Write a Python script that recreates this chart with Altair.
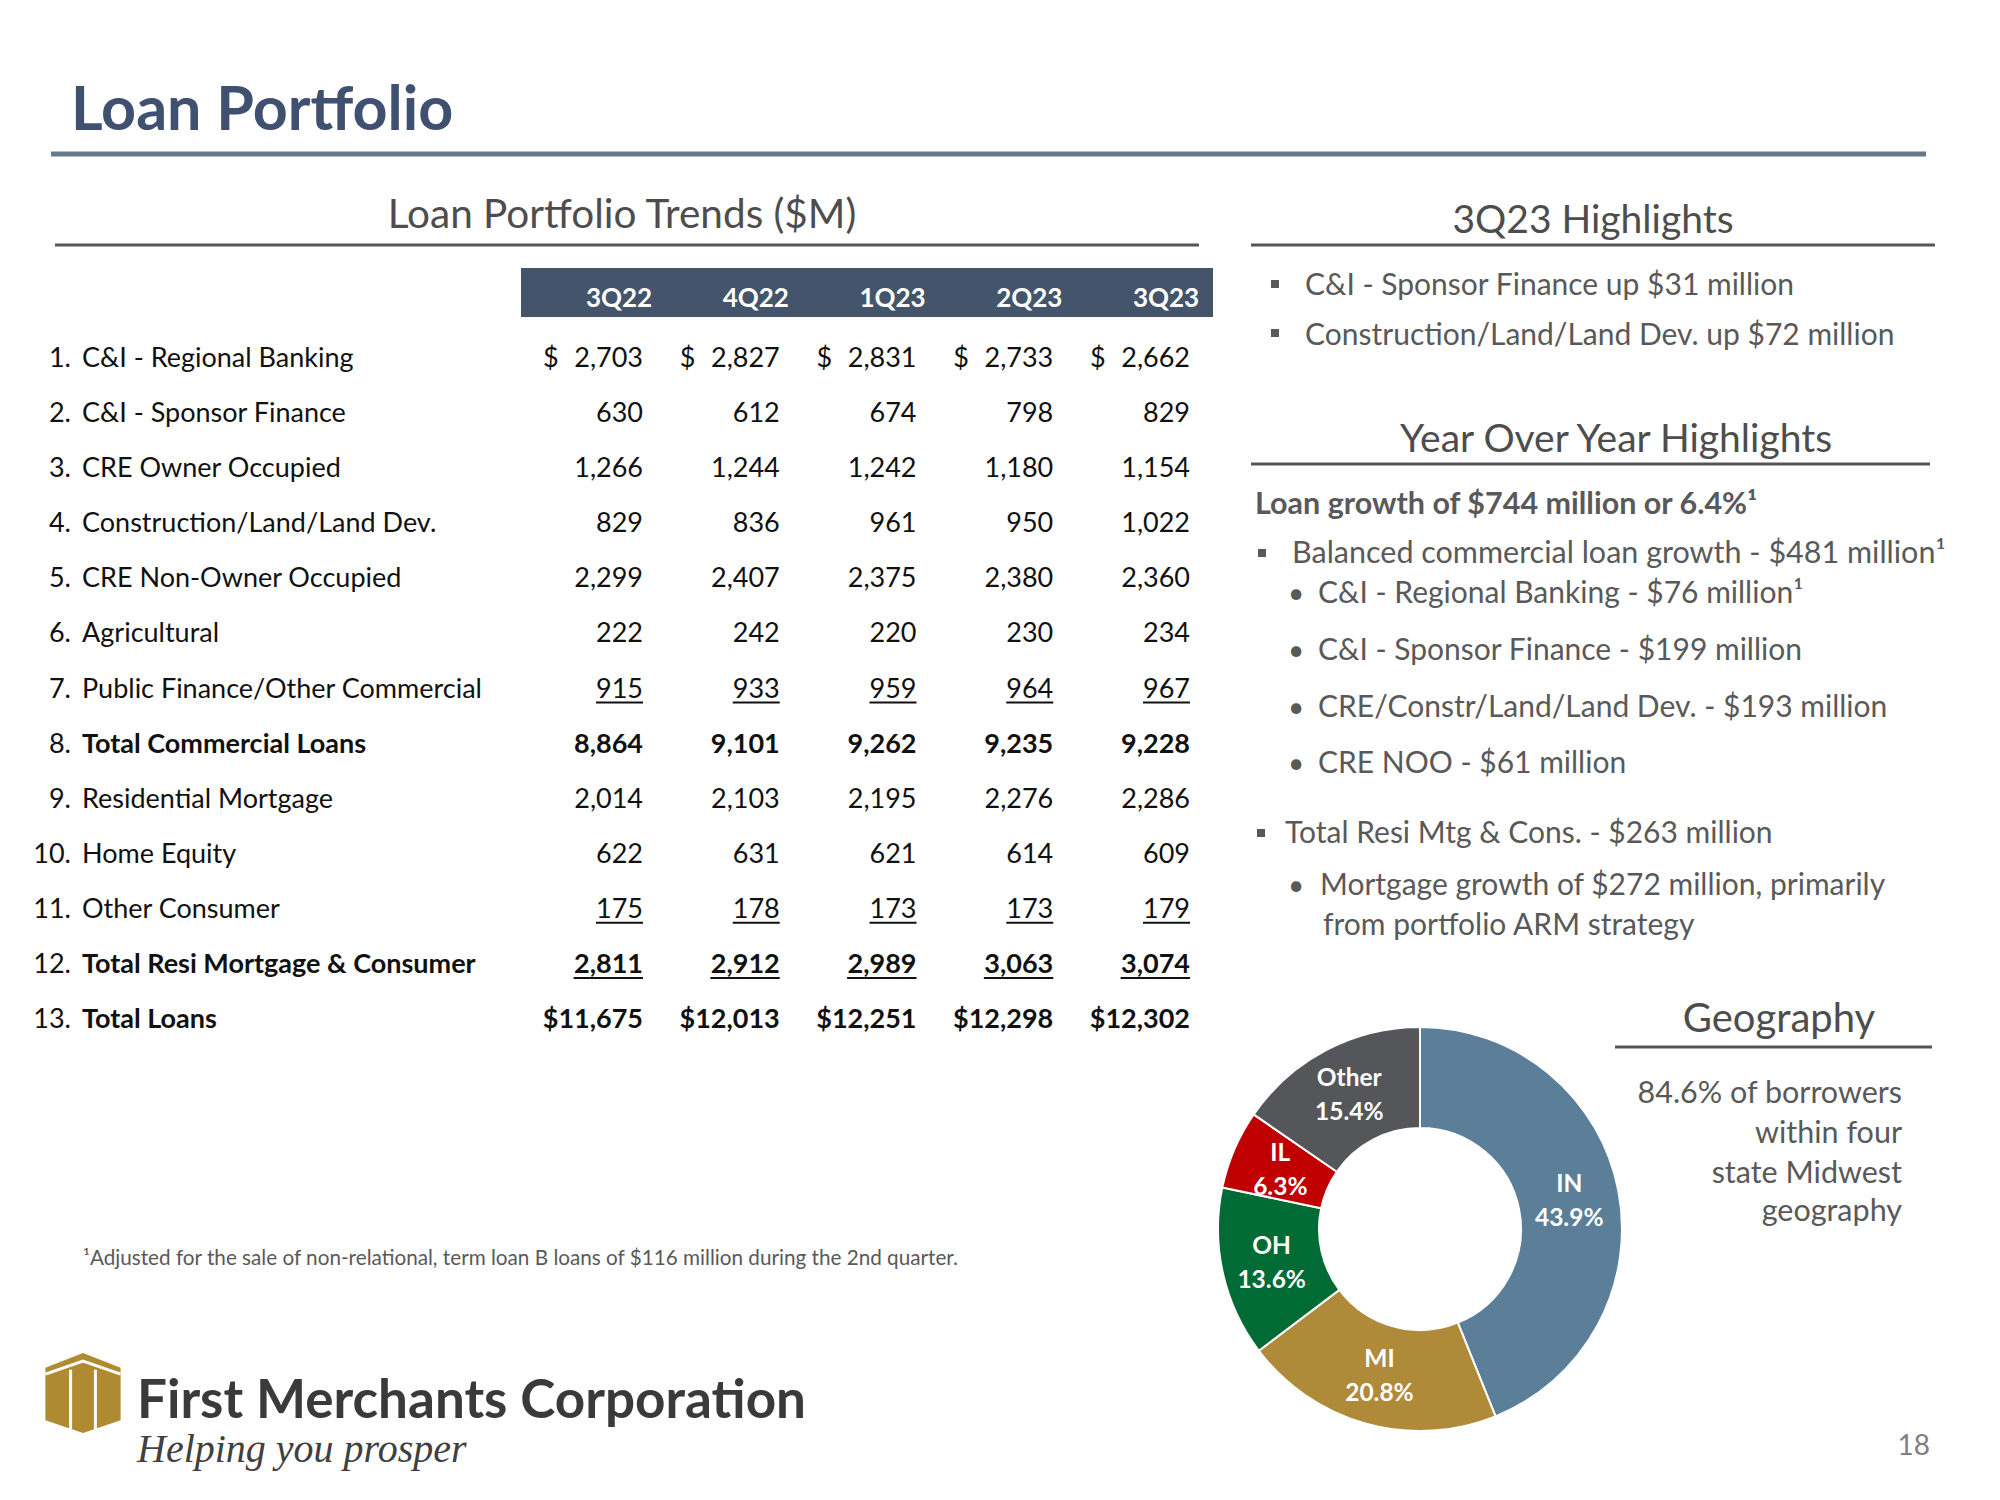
import altair as alt
import pandas as pd

# ---------------- data ----------------
quarters = ["3Q22", "4Q22", "1Q23", "2Q23", "3Q23"]
row_labels = [
    "C&I - Regional Banking", "C&I - Sponsor Finance", "CRE Owner Occupied",
    "Construction/Land/Land Dev.", "CRE Non-Owner Occupied", "Agricultural",
    "Public Finance/Other Commercial", "Total Commercial Loans", "Residential Mortgage",
    "Home Equity", "Other Consumer", "Total Resi Mortgage & Consumer", "Total Loans",
]
ci_regional = [2703, 2827, 2831, 2733, 2662]
ci_sponsor = [630, 612, 674, 798, 829]
cre_owner_occupied = [1266, 1244, 1242, 1180, 1154]
construction_land = [829, 836, 961, 950, 1022]
cre_non_owner = [2299, 2407, 2375, 2380, 2360]
agricultural = [222, 242, 220, 230, 234]
public_finance = [915, 933, 959, 964, 967]
total_commercial = [8864, 9101, 9262, 9235, 9228]
residential_mortgage = [2014, 2103, 2195, 2276, 2286]
home_equity = [622, 631, 621, 614, 609]
other_consumer = [175, 178, 173, 173, 179]
total_resi_consumer = [2811, 2912, 2989, 3063, 3074]
total_loans = [11675, 12013, 12251, 12298, 12302]
bold_rows = [8, 12, 13]
underlined_rows = [7, 11, 12]
separate_dollar_rows = [1]
prefixed_dollar_rows = [13]

geo_states = ["IN", "MI", "OH", "IL", "Other"]
geo_share = [43.9, 20.8, 13.6, 6.3, 15.4]
geo_colors = ["#5B7F98", "#AF8A38", "#006B35", "#C00000", "#55565A"]

# ---------------- style / layout ----------------
OFF = 8
FONT = "Lato"
TITLE_C = "#3F5070"
HEAD_C = "#4D4D4D"
BODY_C = "#595959"
TABLE_C = "#111111"
BAR_C = "#44546A"
GOLD = "#B08A30"
TABLE_FS = 27


def px(v):
    return v - OFF


COL_RIGHT = (643, 1190)
ROW_BASE = (367, 1028)
COL_STEP = (COL_RIGHT[1] - COL_RIGHT[0]) / 4


def est_width(s, fs):
    return sum(0.58 if (c.isdigit() or c == "$") else 0.25 for c in s) * fs


series = [ci_regional, ci_sponsor, cre_owner_occupied, construction_land, cre_non_owner,
          agricultural, public_finance, total_commercial, residential_mortgage, home_equity,
          other_consumer, total_resi_consumer, total_loans]

recs = []
for ri, vals in enumerate(series):
    n = ri + 1
    for ci, v in enumerate(vals):
        s = f"{v:,}"
        if n in prefixed_dollar_rows:
            s = "$" + s
        w = est_width(s, TABLE_FS)
        recs.append(dict(ri=ri, ci=ci, val=s, bold=n in bold_rows,
                         under=n in underlined_rows, dollar=n in separate_dollar_rows,
                         ci_left=ci - w / COL_STEP))
table = pd.DataFrame(recs)

labels_df = pd.DataFrame({
    "ri": list(range(len(row_labels))),
    "num": [f"{i + 1}." for i in range(len(row_labels))],
    "label": row_labels,
    "bold": [(i + 1) in bold_rows for i in range(len(row_labels))],
})
header_df = pd.DataFrame({"q": quarters, "ci": list(range(len(quarters)))})

xs = alt.Scale(domain=[0, 4], range=[px(COL_RIGHT[0]), px(COL_RIGHT[1])], zero=False, nice=False)
ys = alt.Scale(domain=[0, 12], range=[px(ROW_BASE[0]), px(ROW_BASE[1])], zero=False, nice=False)
X = alt.X("ci:Q", scale=xs, axis=None)
Y = alt.Y("ri:Q", scale=ys, axis=None)

layers = []

# decorative rules
lines = pd.DataFrame([
    dict(x=51, x2=1926, y=154, w=5, c="#67788B"),
    dict(x=55, x2=1199, y=245, w=3, c="#555555"),
    dict(x=1251, x2=1935, y=245, w=3, c="#555555"),
    dict(x=1251, x2=1930, y=464, w=3, c="#555555"),
    dict(x=1615, x2=1932, y=1047, w=3, c="#555555"),
])
for col in ["x", "x2", "y"]:
    lines[col] = lines[col] - OFF
layers.append(alt.Chart(lines).mark_rule().encode(
    x=alt.X("x:Q", scale=None), x2="x2:Q", y=alt.Y("y:Q", scale=None),
    strokeWidth=alt.StrokeWidth("w:Q", scale=None), color=alt.Color("c:N", scale=None)))

# header bar
layers.append(alt.Chart(pd.DataFrame({"a": [0]})).mark_rect(color=BAR_C).encode(
    x=alt.value(px(521)), x2=alt.value(px(1213)), y=alt.value(px(268)), y2=alt.value(px(317))))
layers.append(alt.Chart(header_df).mark_text(
    align="center", baseline="alphabetic", font=FONT, fontSize=26, fontWeight="bold",
    color="white", dx=-24).encode(x=X, y=alt.value(px(307)), text="q:N"))

# table values
for is_bold in [False, True]:
    layers.append(alt.Chart(table[table.bold == is_bold]).mark_text(
        align="right", baseline="alphabetic", font=FONT, fontSize=TABLE_FS,
        fontWeight="bold" if is_bold else "normal", color=TABLE_C).encode(x=X, y=Y, text="val:N"))
layers.append(alt.Chart(table[table.dollar]).mark_text(
    text="$", align="left", baseline="alphabetic", font=FONT, fontSize=TABLE_FS,
    color=TABLE_C, dx=-100).encode(x=X, y=Y))
layers.append(alt.Chart(table[table.under]).mark_rule(
    strokeWidth=2, color=TABLE_C, yOffset=5).encode(x=X, x2="ci_left:Q", y=Y))

# row labels
layers.append(alt.Chart(labels_df).mark_text(
    align="right", baseline="alphabetic", font=FONT, fontSize=TABLE_FS, color=TABLE_C).encode(
    x=alt.value(px(71)), y=Y, text="num:N"))
for is_bold in [False, True]:
    layers.append(alt.Chart(labels_df[labels_df.bold == is_bold]).mark_text(
        align="left", baseline="alphabetic", font=FONT, fontSize=TABLE_FS,
        fontWeight="bold" if is_bold else "normal", color=TABLE_C).encode(
        x=alt.value(px(82)), y=Y, text="label:N"))

# free texts
T = []


def add(text, x, y, size, color=BODY_C, weight="normal", align="left", font=FONT, style="normal"):
    T.append(dict(text=text, x=x - OFF, y=y - OFF, size=size, color=color, weight=weight,
                  align=align, font=font, style=style))


add("Loan Portfolio", 71, 130, 61, TITLE_C, "bold")
add("Loan Portfolio Trends ($M)", 622, 228, 40.5, HEAD_C, align="center")
add("3Q23 Highlights", 1593, 233, 39, HEAD_C, align="center")
add("C&I - Sponsor Finance up $31 million", 1305, 295, 30)
add("Construction/Land/Land Dev. up $72 million", 1305, 345, 30)
add("Year Over Year Highlights", 1616, 452, 39, HEAD_C, align="center")
add("Loan growth of $744 million or 6.4%¹", 1255, 514, 30.5, weight="bold")
add("Balanced commercial loan growth - $481 million¹", 1292, 563, 30.5)
add("C&I - Regional Banking - $76 million¹", 1318, 603, 30)
add("C&I - Sponsor Finance - $199 million", 1318, 660, 30)
add("CRE/Constr/Land/Land Dev. - $193 million", 1318, 717, 30)
add("CRE NOO - $61 million", 1318, 773, 30)
add("Total Resi Mtg & Cons. - $263 million", 1285, 843, 30)
add("Mortgage growth of $272 million, primarily", 1320, 895, 30)
add("from portfolio ARM strategy", 1323, 935, 30)
for yb in [603, 660, 717, 773, 895]:
    add("•", 1296, yb, 28, align="center")
add("Geography", 1779, 1032, 40, HEAD_C, align="center")
add("84.6% of borrowers", 1902, 1103, 30.5, align="right")
add("within four", 1902, 1143, 30.5, align="right")
add("state Midwest", 1902, 1183, 30.5, align="right")
add("geography", 1902, 1221, 30.5, align="right")
add("18", 1930, 1455, 28, "#7F7F7F", align="right")
add("¹Adjusted for the sale of non-relational, term loan B loans of $116 million during the 2nd quarter.",
    83, 1265, 20.7)
add("First Merchants Corporation", 137, 1418, 53, "#3A3A3A", "bold")
add("Helping you prosper", 137, 1462, 40, "#404040", font="Liberation Serif", style="italic")
texts = pd.DataFrame(T)

for (weight, align, font, style), g in texts.groupby(["weight", "align", "font", "style"]):
    layers.append(alt.Chart(g).mark_text(
        baseline="alphabetic", align=align, font=font, fontWeight=weight, fontStyle=style).encode(
        x=alt.X("x:Q", scale=None), y=alt.Y("y:Q", scale=None), text="text:N",
        size=alt.Size("size:Q", scale=None), color=alt.Color("color:N", scale=None)))

# square bullets
bul = pd.DataFrame({"x": [1275, 1275, 1262, 1261], "y": [284, 333, 553, 833]})
bul["x"] -= OFF
bul["y"] -= OFF
layers.append(alt.Chart(bul).mark_square(size=64, color=BODY_C, opacity=1).encode(
    x=alt.X("x:Q", scale=None), y=alt.Y("y:Q", scale=None)))

# logo icon
ICON = "M0,-1 L0.94,-0.63 L0.94,0.68 L0,1 L-0.94,0.68 L-0.94,-0.63 Z"
ICON_LINES = "M-0.94,-0.47 L0,-0.8 L0.94,-0.47 M-0.31,-0.58 L-0.31,0.92 M0.31,-0.58 L0.31,0.92"
icon_df = pd.DataFrame({"x": [83 - OFF], "y": [1393 - OFF]})
layers.append(alt.Chart(icon_df).mark_point(shape=ICON, size=6400, filled=True, color=GOLD, opacity=1).encode(
    x=alt.X("x:Q", scale=None), y=alt.Y("y:Q", scale=None)))
layers.append(alt.Chart(icon_df).mark_point(shape=ICON_LINES, size=6400, filled=False, color="white",
                                            strokeWidth=3, opacity=1).encode(
    x=alt.X("x:Q", scale=None), y=alt.Y("y:Q", scale=None)))

# donut
donut = pd.DataFrame({
    "state": geo_states, "share": geo_share, "idx": list(range(len(geo_states))),
    "label": [f"{s}\n{v}%" for s, v in zip(geo_states, geo_share)],
})
CX, CY = 1420, 1229
layers.append(alt.Chart(donut).mark_arc(innerRadius=101, outerRadius=202, stroke="white", strokeWidth=2).encode(
    theta=alt.Theta("share:Q", stack=True),
    color=alt.Color("state:N", scale=alt.Scale(domain=geo_states, range=geo_colors), legend=None),
    order=alt.Order("idx:Q"),
    x=alt.value(px(CX)), y=alt.value(px(CY))))
layers.append(alt.Chart(donut).mark_text(
    radius=152, font=FONT, fontSize=24.5, fontWeight="bold", color="white", lineBreak="\n",
    lineHeight=34, baseline="middle", align="center", dy=-15).encode(
    theta=alt.Theta("share:Q", stack=True), order=alt.Order("idx:Q"), text="label:N",
    x=alt.value(px(CX)), y=alt.value(px(CY))))

chart = alt.layer(*layers).resolve_scale(
    x="independent", y="independent", color="independent", size="independent", strokeWidth="independent"
).properties(width=1984, height=1484, padding=0, autosize="none", background="white"
).configure_view(stroke=None)

chart.save("out.html", embed_options={"renderer": "svg", "actions": False})
